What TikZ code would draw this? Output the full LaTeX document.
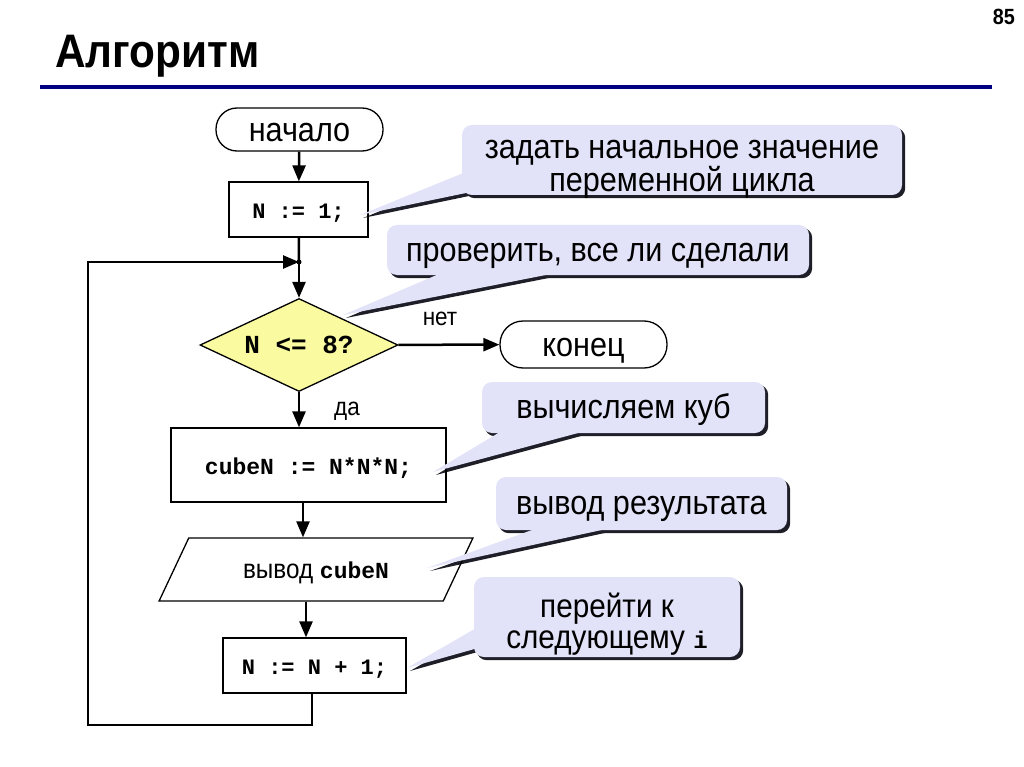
\documentclass[tikz,border=0pt]{standalone}
\usepackage{fontspec}
\setmainfont[FakeStretch=0.9]{Liberation Sans}
\setmonofont{Liberation Mono}
\usetikzlibrary{shapes.geometric, positioning, calc, arrows.meta}
\pgfdeclarelayer{shadow}
\pgfsetlayers{shadow,main}
\definecolor{notefill}{RGB}{226,226,248}
\definecolor{decfill}{RGB}{250,250,160}
\definecolor{rulecol}{RGB}{0,0,128}
\definecolor{shadowcol}{RGB}{30,30,40}

\tikzset{
  sanstext/.style={font=\fontsize{34}{33}\selectfont},
  codetext/.style={font=\ttfamily\bfseries\fontsize{22}{26}\selectfont},
  term/.style={draw, line width=1.3pt, rounded corners=21pt, inner sep=0pt, text height=24pt, text depth=0pt, sanstext},
  proc/.style={draw, line width=1.3pt, inner sep=0pt, text height=18pt, text depth=0pt, codetext},
  note/.style={fill=notefill, rounded corners=10pt, inner sep=0pt, align=center, text height=22pt, text depth=0pt, sanstext},
  flow/.style={line width=2.5pt, -{Triangle[length=16pt,width=13pt]}},
  answer/.style={anchor=base, inner sep=0pt, font=\fontsize{25}{28}\selectfont},
}

\begin{document}
\begin{tikzpicture}[x=1pt, y=1pt]
\useasboundingbox (0,0) rectangle (1024,-767);

% header
\node[anchor=base west, inner sep=0pt, font=\bfseries\fontsize{47}{50}\selectfont] (title) at (55,-68) {Алгоритм};
\node[anchor=base east, inner sep=0pt, font=\bfseries\fontsize{22}{24}\selectfont] (page) at (1015,-25) {85};
\draw[rulecol, line width=4pt] (40,-87.5) -- (992,-87.5);

% blocks
\node[term, minimum width=167, minimum height=43] (start) at (299.5,-129.5) {начало};
\node[proc, minimum width=139, minimum height=55] (set) at (298.5,-209.5) {N := 1;};
\coordinate (join) at (299,-262);
\node[diamond, draw, line width=1.3pt, fill=decfill, inner sep=0pt, aspect=2.13, text height=17pt, text depth=0pt,
      minimum width=198, minimum height=93, font=\ttfamily\bfseries\fontsize{26}{30}\selectfont] (check) at (299,-345) {N <= 8?};
\node[term, rounded corners=23pt, minimum width=167, minimum height=47] (stop) at (583.5,-344.5) {конец};
\node[proc, minimum width=275, minimum height=74, font=\ttfamily\bfseries\fontsize{23}{26}\selectfont] (cube) at (308.5,-465) {cubeN := N*N*N;};
\node[trapezium, trapezium left angle=45, trapezium right angle=135, trapezium stretches=true,
      draw, line width=1.3pt, inner sep=0pt, text height=17pt, text depth=0pt, minimum width=314, minimum height=63] (out) at (316,-569.5)
      {\fontsize{27}{30}\selectfont вывод {\ttfamily\bfseries\fontsize{23}{28}\selectfont cubeN}};
\node[proc, minimum width=183, minimum height=55] (inc) at (314.5,-665.5) {N := N + 1;};

% connectors
\draw[flow] (start) -- (set);
\draw[line width=2.5pt] (set) -- (join);
\draw[flow] (join) -- (check);
\draw[flow] (check) -- (stop);
\node[answer] (no) at (440,-325) {нет};
\draw[flow] (check.south) -- (check.south |- cube.north);
\node[answer] (yes) at (347,-415) {да};
\draw[flow] (cube.south -| 303,0) -- (out.north -| 303,0);
\draw[flow] (out.south -| 306,0) -- (inc.north -| 306,0);
\draw[flow] (inc.south -| 312,0) |- (88,-725) |- (join);
\fill (join) circle (2.5);

% callouts
\node[note, text height=64pt, minimum width=440, minimum height=70] (c1) at (682,-160) {задать начальное значение\\переменной цикла};
\node[note, minimum width=422, minimum height=50] (c2) at (598,-250) {проверить, все ли сделали};
\node[note, minimum width=283, minimum height=51] (c3) at (623.5,-407.5) {вычисляем куб};
\node[note, minimum width=291, minimum height=53] (c4) at (641.5,-503.5) {вывод результата};
\node[note, text height=62pt, minimum width=266, minimum height=80, font=\fontsize{33}{31}\selectfont] (c5) at (607,-617)
      {перейти к\\следующему {\ttfamily\bfseries\fontsize{24}{28}\selectfont i}};

\coordinate (t1) at (360,-215); \coordinate (a1) at (466,-172); \coordinate (b1) at (466,-193);
\coordinate (t2) at (343,-315); \coordinate (a2) at (446,-271); \coordinate (b2) at (566,-271);
\coordinate (t3) at (433,-472); \coordinate (a3) at (505,-429); \coordinate (b3) at (593,-429);
\coordinate (t4) at (427,-568); \coordinate (a4) at (543,-526); \coordinate (b4) at (620,-526);
\coordinate (t5) at (407,-668); \coordinate (a5) at (478,-627); \coordinate (b5) at (478,-648);

\foreach \i in {1,...,5}
  \fill[notefill] (t\i) -- (a\i) -- (b\i) -- cycle;

\begin{pgfonlayer}{shadow}
  \foreach \i in {1,...,5} {
    \fill[shadowcol, rounded corners=10pt] ([shift={(3,-3)}]c\i.south west) rectangle ([shift={(3,-3)}]c\i.north east);
    \fill[shadowcol] ([shift={(3,-3)}]t\i) -- ([shift={(3,-3)}]a\i) -- ([shift={(3,-3)}]b\i) -- cycle;
  }
\end{pgfonlayer}
\end{tikzpicture}
\end{document}
